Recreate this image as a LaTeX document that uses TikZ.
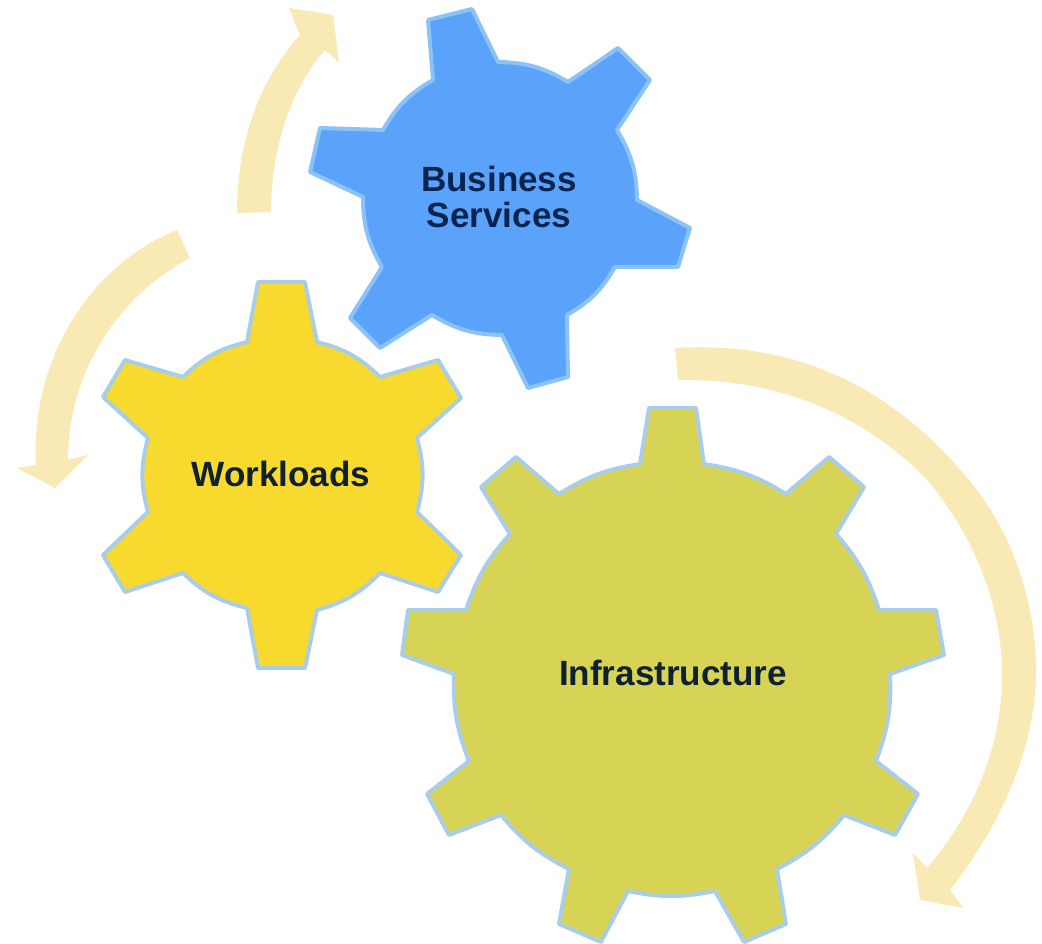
\documentclass[tikz,border=0pt]{standalone}
\usepackage{fontspec}
\setmainfont{Liberation Sans}
\definecolor{arrowfill}{HTML}{F9E9B4}
\definecolor{blueface}{HTML}{5BA3FA}
\definecolor{blueedge}{HTML}{8CC3F6}
\definecolor{yellowface}{HTML}{F8D92E}
\definecolor{greenface}{HTML}{D6D355}
\definecolor{paleedge}{HTML}{A9CDE8}
\definecolor{darkink}{HTML}{0F2030}
\definecolor{navyink}{HTML}{0A2450}
\tikzset{
  gear/.style={line width=3pt,line join=round},
  sweep/.style={fill=arrowfill},
  lbl/.style={font=\fontsize{26.3}{27}\selectfont\bfseries,align=center,inner sep=0pt}
}
\begin{document}
\begin{tikzpicture}[x=0.75pt,y=-0.75pt]
\useasboundingbox (0,0) rectangle (1042,944);
% sweep arrows
\path[sweep] (237,213) .. controls (237,140) and (260,80) .. (300,35) -- (289,8) -- (333,15) -- (339,62) -- (325,50) .. controls (290,90) and (271,150) .. (271,212) -- cycle;
\path[sweep] (177,230) .. controls (90,265) and (30,360) .. (36,465) -- (17,468) -- (55,488) -- (88,455) -- (68,460) .. controls (68,370) and (120,295) .. (190,258) -- cycle;
\path[sweep] (675,348) .. controls (790,341) and (885,382) .. (963,473) .. controls (1010,525) and (1036,600) .. (1036,670) .. controls (1036,750) and (1000,825) .. (950,890) -- (963,908) -- (920,900) -- (913,853) -- (927,868) .. controls (975,812) and (1002,745) .. (1002,675) .. controls (1002,600) and (970,530) .. (927,480) .. controls (860,410) and (770,378) .. (678,380) -- cycle;
% blue gear
\draw[gear,draw=blueedge,fill=blueface]
 (433,80) -- (428,20) -- (472,9) -- (498,62) to[bend left=15]
 (568,82) -- (618,48) -- (650,80) -- (617,130) to[bend left=15]
 (637,200) -- (690,228) -- (678,267) -- (615,267) to[bend left=15]
 (567,315) -- (568,377) -- (528,388) -- (502,335) to[bend left=15]
 (432,315) -- (380,348) -- (350,318) -- (382,267) to[bend left=15]
 (363,197) -- (310,172) -- (320,128) -- (383,130) to[bend left=15] cycle;
% yellow gear
\draw[gear,draw=paleedge,fill=yellowface]
 (247,342) -- (258,282) -- (305,282) -- (317,342) to[bend left=15]
 (380,377) -- (438,360) -- (461,398) -- (417,438) to[bend left=15]
 (417,512) -- (461,555) -- (438,592) -- (380,573) to[bend left=15]
 (317,610) -- (305,668) -- (258,668) -- (247,608) to[bend left=15]
 (183,573) -- (125,592) -- (103,555) -- (148,512) to[bend left=15]
 (148,438) -- (103,397) -- (125,360) -- (183,377) to[bend left=15] cycle;
% green gear
\draw[gear,draw=paleedge,fill=greenface]
 (640,464) -- (649,408) -- (696,408) -- (704,464) to[bend left=11.5]
 (786,494) -- (829,457) -- (864,487) -- (836,534) to[bend left=11.5]
 (879,610) -- (936,610) -- (944,655) -- (890,674) to[bend left=11.5]
 (876,761) -- (918,794) -- (895,835) -- (844,815) to[bend left=11.5]
 (777,869) -- (786,924) -- (744,942) -- (715,891) to[bend left=11.5]
 (628,891) -- (601,942) -- (559,924) -- (569,869) to[bend left=11.5]
 (501,815) -- (449,835) -- (427,794) -- (469,761) to[bend left=11.5]
 (454,674) -- (402,655) -- (408,610) -- (466,610) to[bend left=11.5]
 (510,534) -- (481,487) -- (516,457) -- (559,494) to[bend left=11.5] cycle;
% labels
\node[lbl,text=navyink] (business) at (499,197) {Business\\Services};
\node[lbl,text=darkink] (workloads) at (281,474) {Workloads};
\node[lbl,text=darkink] (infra) at (673,673) {Infrastructure};
\end{tikzpicture}
\end{document}
